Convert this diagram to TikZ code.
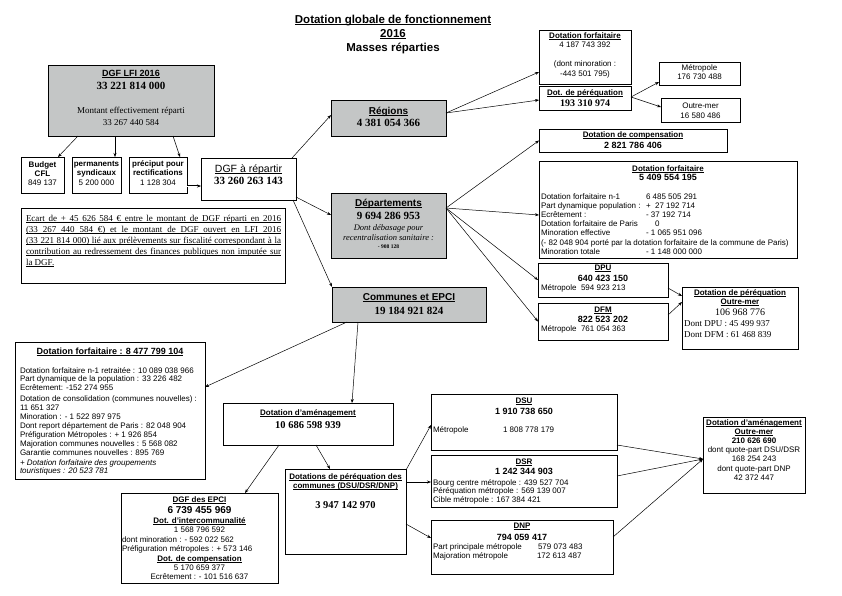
\documentclass[tikz,border=0pt]{standalone}
\usepackage{fontspec}
\setmainfont{Liberation Serif}
\setsansfont{Liberation Sans}
\usetikzlibrary{arrows.meta}
\newcommand\myul[1]{\leavevmode\setbox0=\hbox{#1}\rlap{\rule[-1.5pt]{\wd0}{0.6pt}}\box0}
\definecolor{boxgray}{RGB}{196,198,198}
\tikzset{
  box/.style={draw=black, line width=0.7pt, rectangle, inner sep=0pt, outer sep=0pt, anchor=north west},
  gbox/.style={box, fill=boxgray, line width=0.9pt},
  t/.style={inner sep=0pt, outer sep=0pt, anchor=base},
  tl/.style={t, anchor=base west},
  sb/.style={font=\sffamily\bfseries\fontsize{8}{9}\selectfont},
  sr/.style={font=\sffamily\fontsize{8}{9}\selectfont},
  si/.style={font=\sffamily\itshape\fontsize{8}{9}\selectfont},
  snum/.style={font=\sffamily\bfseries\fontsize{9}{10}\selectfont},
  shead/.style={font=\sffamily\bfseries\fontsize{10}{12}\selectfont},
  rnum/.style={font=\rmfamily\bfseries\fontsize{11}{13}\selectfont},
  rnumm/.style={font=\rmfamily\bfseries\fontsize{10.5}{12}\selectfont},
  rr/.style={font=\rmfamily\fontsize{9}{11}\selectfont},
  arr/.style={-{Stealth[length=4pt,width=3pt]}, line width=0.5pt},
}
\begin{document}
\begin{tikzpicture}[x=1pt,y=-1pt]
\useasboundingbox (0,0) rectangle (842,595);

% ---------- title
\node[t, font=\sffamily\bfseries\fontsize{11.5}{14}\selectfont] (title1) at (393,23) {\myul{Dotation globale de fonctionnement}};
\node[t, font=\sffamily\bfseries\fontsize{11.5}{14}\selectfont] (title2) at (393,37) {\myul{2016}};
\node[t, font=\sffamily\bfseries\fontsize{11.5}{14}\selectfont] (title3) at (393,51) {Masses réparties};

% ---------- boxes
\node[gbox, minimum width=166pt, minimum height=71pt] (lfi) at (48,65) {};
\node[box, minimum width=43pt, minimum height=36pt] (budget) at (21,157) {};
\node[box, minimum width=49pt, minimum height=36pt] (perm) at (72,157) {};
\node[box, minimum width=58pt, minimum height=36pt] (prec) at (129,157) {};
\node[box, minimum width=95pt, minimum height=42pt] (rep) at (201,158) {};
\node[box, minimum width=264pt, minimum height=75pt] (ecart) at (21,208) {};
\node[gbox, minimum width=115pt, minimum height=36pt] (reg) at (331,100) {};
\node[gbox, minimum width=115pt, minimum height=65pt] (dep) at (331,193) {};
\node[gbox, minimum width=154pt, minimum height=35pt] (com) at (332,287) {};
\node[box, minimum width=92pt, minimum height=54pt] (rforf) at (539,30) {};
\node[box, minimum width=92pt, minimum height=24pt] (rper) at (539,86) {};
\node[box, minimum width=81pt, minimum height=23pt] (metro) at (659,62) {};
\node[box, minimum width=79pt, minimum height=24pt] (om) at (661,98) {};
\node[box, minimum width=188pt, minimum height=23pt] (comp) at (539,129) {};
\node[box, minimum width=258pt, minimum height=97pt] (dforf) at (539,161) {};
\node[box, minimum width=130pt, minimum height=34pt] (dpu) at (538,263) {};
\node[box, minimum width=130pt, minimum height=37pt] (dfm) at (538,303) {};
\node[box, minimum width=116pt, minimum height=62pt] (pom) at (682,287) {};
\node[box, minimum width=190pt, minimum height=137pt] (cforf) at (15,342) {};
\node[box, minimum width=170pt, minimum height=42pt] (amen) at (223,403) {};
\node[box, minimum width=121pt, minimum height=85pt] (pcom) at (285,469) {};
\node[box, minimum width=157pt, minimum height=90pt] (epci) at (121,493) {};
\node[box, minimum width=186pt, minimum height=56pt] (dsu) at (431,394) {};
\node[box, minimum width=186pt, minimum height=52pt] (dsr) at (431,455) {};
\node[box, minimum width=182pt, minimum height=54pt] (dnp) at (431,520) {};
\node[box, minimum width=102pt, minimum height=76pt] (aom) at (703,417) {};

% ---------- texts
% DGF LFI
\node[t, font=\sffamily\bfseries\fontsize{9}{11}\selectfont] (lfi1) at (131,76) {\myul{DGF LFI 2016}};
\node[t, rnum] (lfi2) at (131,89) {33 221 814 000};
\node[t, rr] (lfi3) at (131,113) {Montant effectivement réparti};
\node[t, rr] (lfi4) at (131,125) {33 267 440 584};
% small boxes
\node[t, sb] (bud1) at (42.5,167) {Budget};
\node[t, sb] (bud2) at (42.5,176) {CFL};
\node[t, sr] (bud3) at (42.5,185) {849 137};
\node[t, sb] (perm1) at (96.5,166) {permanents};
\node[t, sb] (perm2) at (96.5,175) {syndicaux};
\node[t, sr] (perm3) at (96.5,185) {5 200 000};
\node[t, sb] (prec1) at (158,166) {préciput pour};
\node[t, sb] (prec2) at (158,175) {rectifications};
\node[t, sr] (prec3) at (158,185) {1 128 304};
% DGF a repartir
\node[t, font=\sffamily\fontsize{10.5}{12}\selectfont] (rep1) at (248.5,172) {\myul{DGF à répartir}};
\node[t, rnum] (rep2) at (248.5,184) {33 260 263 143};
% Ecart
\node[tl, rr] (ec1) at (26,221) {\myul{\makebox[255pt][s]{Ecart de + 45 626 584 € entre le montant de DGF réparti en 2016}}};
\node[tl, rr] (ec2) at (26,232) {\myul{\makebox[255pt][s]{(33 267 440 584 €) et le montant de DGF ouvert en LFI 2016}}};
\node[tl, rr] (ec3) at (26,243) {\myul{\makebox[255pt][s]{(33 221 814 000) lié aux prélèvements sur fiscalité correspondant à la}}};
\node[tl, rr] (ec4) at (26,254) {\myul{\makebox[255pt][s]{contribution au redressement des finances publiques non imputée sur}}};
\node[tl, rr] (ec5) at (26,265) {\myul{la DGF.}};
% Regions
\node[t, shead] (reg1) at (388.5,114.5) {\myul{Régions}};
\node[t, rnum] (reg2) at (388.5,126) {4 381 054 366};
% Departements
\node[t, shead] (dep1) at (388.5,206.5) {\myul{Départements}};
\node[t, rnum] (dep2) at (388.5,219) {9 694 286 953};
\node[t, font=\rmfamily\itshape\fontsize{8.5}{10}\selectfont] (dep3) at (388.5,230) {Dont débasage pour};
\node[t, font=\rmfamily\itshape\fontsize{8.5}{10}\selectfont] (dep4) at (388.5,240) {recentralisation sanitaire :};
\node[t, font=\rmfamily\bfseries\fontsize{5.5}{7}\selectfont] (dep5) at (388.5,248) {- 908 128};
% Communes
\node[t, shead] (com1) at (409,300.5) {\myul{Communes et EPCI}};
\node[t, rnum] (com2) at (409,314) {19 184 921 824};
% Regions: dotation forfaitaire
\node[t, sb] (rf1) at (585,38) {\myul{Dotation forfaitaire}};
\node[t, sr] (rf2) at (585,47) {4 187 743 392};
\node[t, sr] (rf3) at (585,66) {(dont minoration :};
\node[t, sr] (rf4) at (585,76) {-443 501 795)};
\node[t, sb] (rp1) at (585,95) {\myul{Dot. de péréquation}};
\node[t, font=\rmfamily\bfseries\fontsize{10}{12}\selectfont] (rp2) at (585,106.5) {193 310 974};
\node[t, sr] (me1) at (699.5,70) {Métropole};
\node[t, sr] (me2) at (699.5,79.5) {176 730 488};
\node[t, sr] (om1) at (700.5,108) {Outre-mer};
\node[t, sr] (om2) at (700.5,118) {16 580 486};
% Departements: compensation
\node[t, sb] (cp1) at (633,137) {\myul{Dotation de compensation}};
\node[t, snum] (cp2) at (633,148) {2 821 786 406};
% Departements: dotation forfaitaire
\node[t, sb] (dfa) at (668,171) {\myul{Dotation forfaitaire}};
\node[t, snum] (dfb) at (668,180.5) {5 409 554 195};
\node[tl, sr] (df1) at (541,199) {Dotation forfaitaire n-1};
\node[tl, sr] (df1v) at (646,199) {6 485 505 291};
\node[tl, sr] (df2) at (541,208) {Part dynamique population :};
\node[tl, sr] (df2v) at (646,208) {+\ \ 27 192 714};
\node[tl, sr] (df3) at (541,217) {Ecrêtement :};
\node[tl, sr] (df3v) at (646,217) {- 37 192 714};
\node[tl, sr] (df4) at (541,226) {Dotation forfaitaire de Paris};
\node[tl, sr] (df4v) at (655,226) {0};
\node[tl, sr] (df5) at (541,235) {Minoration effective};
\node[tl, sr] (df5v) at (646,235) {- 1 065 951 096};
\node[tl, sr] (df6) at (541,245) {(- 82 048 904 porté par la dotation forfaitaire de la commune de Paris)};
\node[tl, sr] (df7) at (541,254) {Minoration totale};
\node[tl, sr] (df7v) at (646,254) {- 1 148 000 000};
% DPU / DFM
\node[t, sb] (dpu1) at (603,270) {\myul{DPU}};
\node[t, snum] (dpu2) at (603,281.5) {640 423 150};
\node[tl, sr] (dpu3) at (541,290) {Métropole};
\node[tl, sr] (dpu4) at (581,290) {594 923 213};
\node[t, sb] (dfm1) at (603,312) {\myul{DFM}};
\node[t, snum] (dfm2) at (603,322.5) {822 523 202};
\node[tl, sr] (dfm3) at (541,331) {Métropole};
\node[tl, sr] (dfm4) at (581,331) {761 054 363};
% Perequation outre-mer
\node[t, sb] (po1) at (740,295) {\myul{Dotation de péréquation}};
\node[t, sb] (po2) at (740,304) {\myul{Outre-mer}};
\node[t, font=\rmfamily\fontsize{10}{12}\selectfont] (po3) at (740,315.5) {106 968 776};
\node[tl, rr] (po4) at (684,326) {Dont DPU : 45 499 937};
\node[tl, rr] (po5) at (684,337) {Dont DFM : 61 468 839};
% Communes: dotation forfaitaire
\node[t, font=\sffamily\bfseries\fontsize{9}{11}\selectfont] (cf0) at (110,354) {\myul{Dotation forfaitaire : 8 477 799 104}};
\node[tl, sr] (cf1) at (20,373) {Dotation forfaitaire n-1 retraitée : 10 089 038 966};
\node[tl, sr] (cf2) at (20,381) {Part dynamique de la population : 33 226 482};
\node[tl, sr] (cf3) at (20,390) {Ecrêtement: -152 274 955};
\node[tl, sr] (cf4) at (20,401) {Dotation de consolidation (communes nouvelles) :};
\node[tl, sr] (cf5) at (20,410) {11 651 327};
\node[tl, sr] (cf6) at (20,419) {Minoration : - 1 522 897 975};
\node[tl, sr] (cf7) at (20,428) {Dont report département de Paris : 82 048 904};
\node[tl, sr] (cf8) at (20,437) {Préfiguration Métropoles : + 1 926 854};
\node[tl, sr] (cf9) at (20,446) {Majoration communes nouvelles : 5 568 082};
\node[tl, sr] (cf10) at (20,455) {Garantie communes nouvelles : 895 769};
\node[tl, si] (cf11) at (20,465) {+ Dotation forfaitaire des groupements};
\node[tl, si] (cf12) at (20,473) {touristiques : 20 523 781};
% Amenagement
\node[t, sb] (am1) at (308,415) {\myul{Dotation d'aménagement}};
\node[t, rnumm] (am2) at (308,428) {10 686 598 939};
% Perequation communes
\node[t, sb] (pc1) at (345.5,479) {\myul{Dotations de péréquation des}};
\node[t, sb] (pc2) at (345.5,488) {\myul{communes (DSU/DSR/DNP)}};
\node[t, rnumm] (pc3) at (345.5,508) {3 947 142 970};
% EPCI
\node[t, sb] (ep1) at (199.5,502) {\myul{DGF des EPCI}};
\node[t, font=\sffamily\bfseries\fontsize{10}{12}\selectfont] (ep2) at (199.5,513) {6 739 455 969};
\node[t, sb] (ep3) at (199.5,523) {\myul{Dot. d'intercommunalité}};
\node[t, sr] (ep4) at (199.5,532) {1 568 796 592};
\node[tl, sr] (ep5) at (122,542) {dont minoration : - 592 022 562};
\node[tl, sr] (ep6) at (122,551) {Préfiguration métropoles : + 573 146};
\node[t, sb] (ep7) at (199.5,561) {\myul{Dot. de compensation}};
\node[t, sr] (ep8) at (199.5,570) {5 170 659 377};
\node[t, sr] (ep9) at (199.5,579) {Ecrêtement : - 101 516 637};
% DSU
\node[t, sb] (su1) at (524,403) {\myul{DSU}};
\node[t, snum] (su2) at (524,414.5) {1 910 738 650};
\node[tl, sr] (su3) at (433,432) {Métropole};
\node[tl, sr] (su4) at (503,432) {1 808 778 179};
% DSR
\node[t, sb] (sr1) at (524,464) {\myul{DSR}};
\node[t, snum] (sr2) at (524,474.5) {1 242 344 903};
\node[tl, sr] (sr3) at (433,485) {Bourg centre métropole : 439 527 704};
\node[tl, sr] (sr4) at (433,493) {Péréquation métropole : 569 139 007};
\node[tl, sr] (sr5) at (433,502) {Cible métropole : 167 384 421};
% DNP
\node[t, sb] (np1) at (522,528) {\myul{DNP}};
\node[t, snum] (np2) at (522,540.5) {794 059 417};
\node[tl, sr] (np3) at (433,549) {Part principale métropole};
\node[tl, sr] (np4) at (538,549) {579 073 483};
\node[tl, sr] (np5) at (433,558) {Majoration métropole};
\node[tl, sr] (np6) at (537,558) {172 613 487};
% Amenagement outre-mer
\node[t, sb] (ao1) at (754,425) {\myul{Dotation d'aménagement}};
\node[t, sb] (ao2) at (754,434) {\myul{Outre-mer}};
\node[t, sb] (ao3) at (754,443) {210 626 690};
\node[t, sr] (ao4) at (754,452) {dont quote-part DSU/DSR};
\node[t, sr] (ao5) at (754,461) {168 254 243};
\node[t, sr] (ao6) at (754,471) {dont quote-part DNP};
\node[t, sr] (ao7) at (754,480) {42 372 447};

% ---------- connectors
\draw[arr] ([xshift=30pt]lfi.south west) -- ([xshift=37pt]budget.north west);
\draw[arr] ([xshift=67pt]lfi.south west) -- ([xshift=43pt]perm.north west);
\draw[arr] ([xshift=125pt]lfi.south west) -- ([xshift=51pt]prec.north west);
\draw[arr, double, double distance=0.8pt, line width=0.4pt] ([yshift=-11pt]prec.east) -- ([yshift=-7pt]rep.west);
\draw[arr] ([xshift=-4pt]rep.north east) -- ([yshift=3pt]reg.west);
\draw[arr] ([yshift=3pt]rep.south east) -- ([yshift=10.5pt]dep.west);
\draw[arr] ([xshift=-3pt]rep.south east) -- (com.north west);
\draw[arr] ([yshift=5pt]reg.east) -- ([yshift=-15pt]rforf.west);
\draw[arr] ([yshift=5pt]reg.east) -- ([yshift=-2pt]rper.west);
\draw[arr] ([yshift=1pt]rper.east) -- ([yshift=-8.5pt]metro.west);
\draw[arr] ([yshift=1pt]rper.east) -- ([yshift=3pt]om.west);
\draw[arr] ([yshift=17.5pt]dep.east) -- (comp.west);
\draw[arr] ([yshift=17.5pt]dep.east) -- ([yshift=-5.5pt]dforf.west);
\draw[arr] ([yshift=17.5pt]dep.east) -- (dpu.west);
\draw[arr] ([yshift=17.5pt]dep.east) -- (dfm.west);
\draw[arr] ([yshift=-8pt]dpu.east) -- ([yshift=22pt]pom.west);
\draw[arr] ([yshift=6.5pt]dfm.east) -- ([yshift=16pt]pom.west);
\draw[arr] ([xshift=15pt]com.south west) -- ([yshift=23.5pt]cforf.east);
\draw[arr] ([xshift=26pt]com.south west) -- ([xshift=44pt]amen.north);
\draw[arr] ([xshift=56pt]amen.south west) -- ([xshift=124pt]epci.north west);
\draw[arr] ([xshift=93pt]amen.south west) -- ([xshift=45pt]pcom.north west);
\draw[arr] ([yshift=-1pt]pcom.north east) -- ([yshift=-3pt]dsu.west);
\draw[arr] ([yshift=-13pt]pcom.north east) -- ([yshift=-1pt]dsr.west);
\draw[arr] ([yshift=-55pt]pcom.north east) -- ([yshift=9pt]dnp.west);
\draw[arr] ([yshift=5pt]dsu.south east) -- ([yshift=-4pt]aom.west);
\draw[arr] ([yshift=5pt]dsr.east) -- ([yshift=-4pt]aom.west);
\draw[arr] ([yshift=10pt]dnp.east) -- ([yshift=-4pt]aom.west);
\end{tikzpicture}
\end{document}
